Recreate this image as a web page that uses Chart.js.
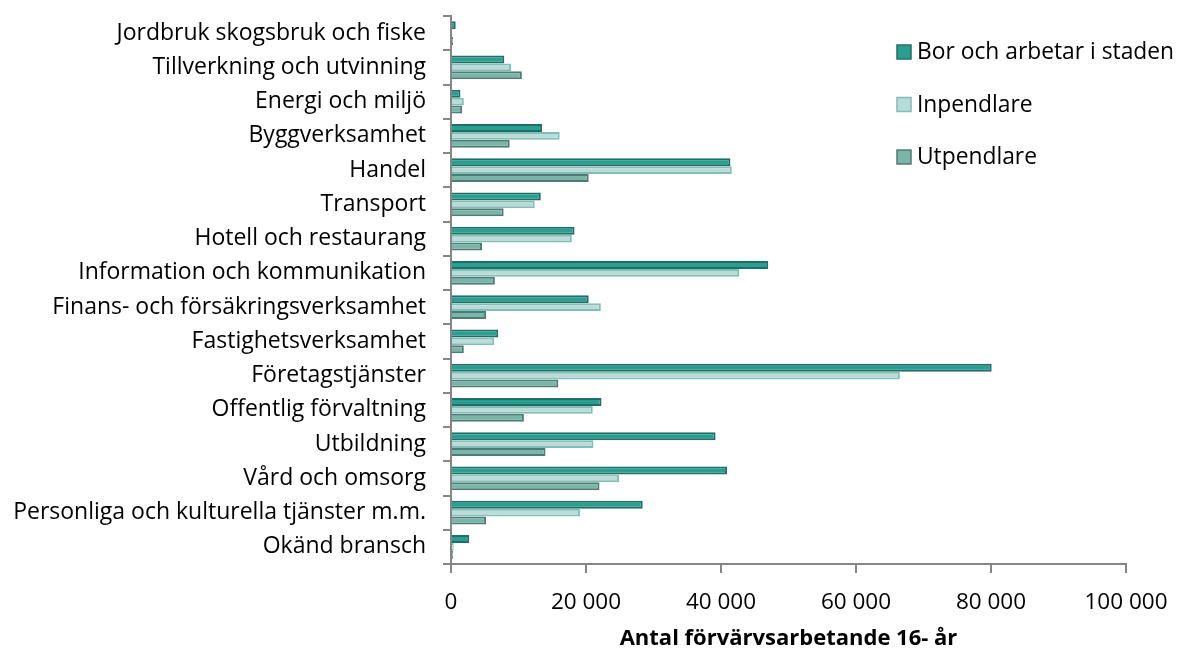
<!DOCTYPE html>
<html>
<head>
<meta charset="utf-8">
<script src="https://cdn.jsdelivr.net/npm/chart.js@4.4.0/dist/chart.umd.min.js"></script>
<style>
  html, body { margin: 0; padding: 0; background: #fff; }
  #wrap { width: 1177px; height: 648px; }
</style>
</head>
<body>
<div id="wrap"><canvas id="canvas" width="1177" height="648"></canvas></div>
<script>
// branscher (categories)
var branscher = [
    'Jordbruk skogsbruk och fiske',
    'Tillverkning och utvinning',
    'Energi och miljö',
    'Byggverksamhet',
    'Handel',
    'Transport',
    'Hotell och restaurang',
    'Information och kommunikation',
    'Finans- och försäkringsverksamhet',
    'Fastighetsverksamhet',
    'Företagstjänster',
    'Offentlig förvaltning',
    'Utbildning',
    'Vård och omsorg',
    'Personliga och kulturella tjänster m.m.',
    'Okänd bransch'
];

// values
var borOchArbetar = [700, 7900, 1400, 13500, 41400, 13300, 18300, 47000, 20400, 7000, 80100, 22300, 39200, 40900, 28400, 2700];
var inpendlare    = [150, 8900, 1900, 16100, 41600, 12400, 17900, 42700, 22200, 6400, 66500, 21000, 21100, 24900, 19100, 400];
var utpendlare    = [300, 10500, 1650, 8700, 20400, 7800, 4600, 6500, 5200, 1900, 15900, 10800, 14000, 22000, 5200, 300];

var xTicks = [0, 20000, 40000, 60000, 80000, 100000];

var FONT = "'Open Sans', 'Noto Sans', sans-serif";

// legend drawn by hand so it can sit over the plot like in the original
var sideLegend = {
    id: 'sideLegend',
    afterDraw: function(chart) {
        var ctx = chart.ctx;
        ctx.save();
        ctx.font = '22.8px ' + FONT;
        ctx.textBaseline = 'middle';
        ctx.textAlign = 'left';
        chart.data.datasets.forEach(function(ds, i) {
            var y = 52 + i * 52.5;
            ctx.fillStyle = ds.backgroundColor;
            ctx.fillRect(897, y - 7, 14, 14);
            ctx.strokeStyle = ds.borderColor;
            ctx.lineWidth = 1.5;
            ctx.strokeRect(897, y - 7, 14, 14);
            ctx.fillStyle = '#000';
            ctx.fillText(ds.label, 917, y + 1);
        });
        ctx.restore();
    }
};

var ctx = document.getElementById('canvas').getContext('2d');
var myChart = new Chart(ctx, {
    type: 'bar',
    data: {
        labels: branscher,
        datasets: [{
            label: 'Bor och arbetar i staden',
            data: borOchArbetar,
            backgroundColor: 'rgb(42, 158, 144)',
            borderColor: 'rgb(30, 112, 102)',
            borderWidth: 2
        }, {
            label: 'Inpendlare',
            data: inpendlare,
            backgroundColor: 'rgb(186, 219, 216)',
            borderColor: 'rgb(128, 190, 182)',
            borderWidth: 2
        }, {
            label: 'Utpendlare',
            data: utpendlare,
            backgroundColor: 'rgb(122, 181, 169)',
            borderColor: 'rgb(78, 124, 116)',
            borderWidth: 2
        }]
    },
    options: {
        indexAxis: 'y',
        responsive: false,
        animation: false,
        layout: { padding: { top: 16, right: 51, left: 0, bottom: 0 } },
        datasets: {
            bar: { categoryPercentage: 0.69, barPercentage: 1.0 }
        },
        plugins: {
            legend: { display: false },
            tooltip: { enabled: false }
        },
        scales: {
            x: {
                type: 'linear',
                min: 0,
                max: 100000,
                afterBuildTicks: function(scale) {
                    scale.ticks = xTicks.map(function(v) { return { value: v }; });
                },
                afterFit: function(scale) {
                    scale.height = 84;
                    scale.paddingLeft = 0;
                    scale.paddingRight = 0;
                },
                grid: {
                    drawOnChartArea: false,
                    drawTicks: true,
                    tickLength: 9,
                    color: '#868686',
                    lineWidth: 2
                },
                border: { color: '#868686', width: 2 },
                ticks: {
                    color: '#000',
                    font: { family: FONT, size: 22.5 },
                    padding: 16,
                    callback: function(v) {
                        return String(v).replace(/\B(?=(\d{3})+(?!\d))/g, ' ');
                    }
                },
                title: {
                    display: true,
                    text: 'Antal förvärvsarbetande 16- år',
                    color: '#000',
                    font: { family: FONT, size: 22, weight: 'bold', lineHeight: 1 },
                    padding: { top: 4, bottom: -2 }
                }
            },
            y: {
                afterFit: function(scale) {
                    scale.width = 451;
                    scale.paddingTop = 0;
                    scale.paddingBottom = 0;
                },
                grid: {
                    offset: true,
                    drawOnChartArea: false,
                    drawTicks: true,
                    tickLength: 8,
                    color: '#868686',
                    lineWidth: 2
                },
                border: { color: '#868686', width: 2 },
                ticks: {
                    color: '#000',
                    font: { family: FONT, size: 23 },
                    padding: 17,
                    autoSkip: false
                }
            }
        }
    },
    plugins: [sideLegend]
});
</script>
</body>
</html>
